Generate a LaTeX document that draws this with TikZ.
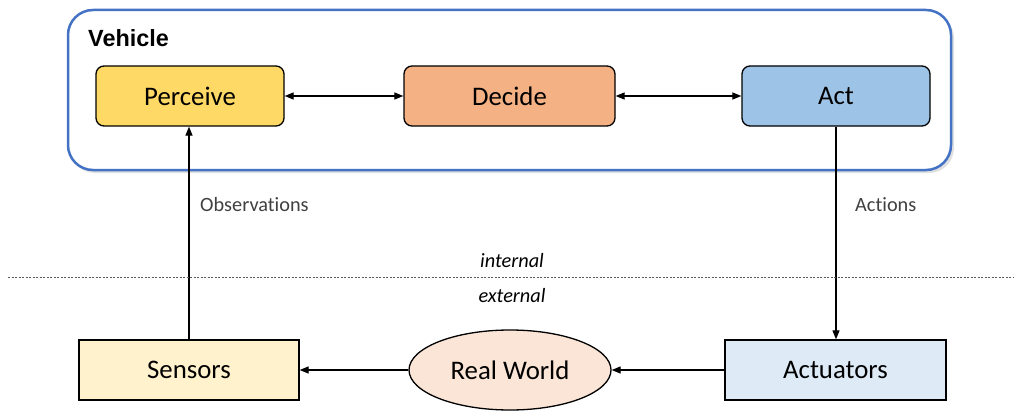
\documentclass[tikz,border=0pt]{standalone}
\usepackage{fontspec}
\setmainfont{Carlito}[Ligatures=NoCommon]
\newfontfamily\arialfont{Liberation Sans}
\usetikzlibrary{arrows.meta,shapes.geometric,shadows}
\definecolor{vblue}{HTML}{4472C4}
\definecolor{cperc}{HTML}{FFD966}
\definecolor{cdec}{HTML}{F4B183}
\definecolor{cact}{HTML}{9DC3E6}
\definecolor{csens}{HTML}{FFF2CC}
\definecolor{creal}{HTML}{FBE5D6}
\definecolor{cactu}{HTML}{DEEBF7}
\definecolor{lbl}{HTML}{404040}
\tikzset{
  inner/.style={draw=black, line width=1.3pt, rounded corners=8pt, minimum width=188pt, minimum height=60pt, font=\fontsize{26.8}{30}\selectfont, inner sep=0pt},
  outer/.style={draw=black, line width=1.3pt, minimum width=220pt, minimum height=60pt, font=\fontsize{26.8}{30}\selectfont, inner sep=0pt},
  conn/.style={line width=1.2pt, -{Triangle[length=9pt,width=7pt]}},
  biconn/.style={line width=1.2pt, {Triangle[length=9pt,width=7pt]}-{Triangle[length=9pt,width=7pt]}},
  lab/.style={text=lbl, font=\fontsize{20.3}{24}\selectfont, inner sep=0pt},
  side/.style={text=black, font=\fontsize{20.3}{24}\selectfont\itshape, inner sep=0pt}
}
\begin{document}
\begin{tikzpicture}[x=1pt,y=-1pt]
\useasboundingbox (0,0) rectangle (1014,412);
\fill[black!12, rounded corners=25pt] (70,13) rectangle (954,173);
\draw[vblue, line width=2.5pt, fill=white, rounded corners=25pt] (68,10) rectangle (951,170);
\node[anchor=west, inner sep=0pt, font=\arialfont\bfseries\fontsize{23.4}{27}\selectfont] (veh) at (88,38) {Vehicle};
\node[inner, fill=cperc] (perc) at (190,96) {Perceive};
\node[inner, fill=cdec, minimum width=211pt] (dec) at (509.5,96) {Decide};
\node[inner, fill=cact] (act) at (836,96) {Act};
\node[outer, fill=csens] (sens) at (189,370) {Sensors};
\node[ellipse, draw=black, line width=1.3pt, fill=creal, minimum width=202pt, minimum height=80pt, inner sep=0pt, font=\fontsize{26.8}{30}\selectfont] (real) at (510,370) {Real World};
\node[outer, fill=cactu, minimum width=221pt] (actu) at (835.5,370) {Actuators};
\draw[biconn] (perc) -- (dec);
\draw[biconn] (dec) -- (act);
\draw[conn] (sens.north -| 189,0) -- (perc.south -| 189,0);
\draw[conn] (act.south -| 836,0) -- (actu.north -| 836,0);
\draw[conn] (actu) -- (real);
\draw[conn] (real) -- (sens);
\node[lab, anchor=west] (obs) at (200,205) {Observations};
\node[lab, anchor=west] (acts) at (855,205) {Actions};
\coordinate (dl) at (8,277);
\coordinate (dr) at (1014,277);
\draw[black!65, line width=1pt, dash pattern=on 2pt off 1.5pt] (dl) -- (dr);
\node[side] (int) at (512,261) {internal};
\node[side] (ext) at (512,296) {external};
\end{tikzpicture}
\end{document}
